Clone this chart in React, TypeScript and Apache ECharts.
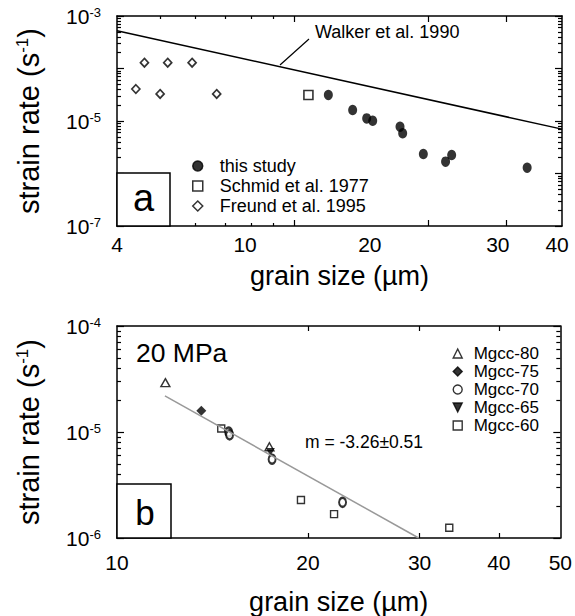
import React, { useEffect, useRef } from 'react';
import * as echarts from 'echarts';

const FONT = '"Liberation Sans", Arial, Helvetica, sans-serif';

// ---------- panel (a) ----------
const walkerLine: number[][] = [[4, 5.25e-4], [40, 7.0e-6]];
const thisStudy: number[][] = [
  [11.94, 3.13e-5], [13.54, 1.62e-5], [14.56, 1.12e-5], [15.02, 1.01e-5],
  [17.3, 7.79e-6], [17.54, 5.83e-6], [19.52, 2.35e-6], [21.9, 1.68e-6],
  [22.6, 2.25e-6], [33.4, 1.29e-6],
];
const schmid1977: number[][] = [[10.77, 3.13e-5]];
const freund1995: number[][] = [
  [4.41, 4.07e-5], [4.61, 1.29e-4], [5.0, 3.27e-5],
  [5.2, 1.29e-4], [5.9, 1.29e-4], [6.7, 3.27e-5],
];
const xTicksMajorA = [10, 20, 30];
const xTicksMinorA = [5, 6, 7, 8, 9];
const xTickLabelTextA = ['4', '10', '20', '30', '40'];
const xTickLabelAtA = [4, 7.76, 14.8, 28.7, 39.0];
const yDecadesA = [1e-7, 1e-6, 1e-5, 1e-4, 1e-3];
const yLabelsA = [1e-7, 1e-5, 1e-3];

// ---------- panel (b) ----------
const fitLine: number[][] = [[11.9, 2.19e-5], [29.9, 1.0e-6]];
const mgcc80: number[][] = [[11.92, 2.92e-5], [17.39, 7.26e-6]];
const mgcc75: number[][] = [[13.58, 1.59e-5]];
const mgcc70: number[][] = [[15.0, 1.0e-5], [15.05, 9.4e-6], [17.56, 5.53e-6], [22.68, 2.17e-6]];
const mgcc65: number[][] = [[17.45, 6.48e-6]];
const mgcc60: number[][] = [[14.6, 1.08e-5], [19.5, 2.28e-6], [21.99, 1.68e-6], [33.41, 1.25e-6]];
const xTicksB = [20, 30, 40];
const xLabelsB = [10, 20, 30, 40, 50];
const yDecadesB = [1e-6, 1e-5, 1e-4];
const yLabelsB = [1e-6, 1e-5, 1e-4];

const minorSteps = [2, 3, 4, 5, 6, 7, 8, 9];
function minorTicks(decades: number[]) {
  const out: number[] = [];
  for (let i = 0; i < decades.length - 1; i++) for (const m of minorSteps) out.push(decades[i] * m);
  return out;
}

const LINE = { show: true, onZero: false, lineStyle: { color: '#000', width: 1.5 } };
const NOLINE = { show: false, onZero: false };

function logAxis(o: any) {
  return {
    type: 'log',
    logBase: 10,
    gridIndex: o.grid,
    position: o.pos,
    min: o.min,
    max: o.max,
    silent: true,
    splitLine: { show: false },
    axisLine: o.line ? LINE : NOLINE,
    axisTick: {
      show: true,
      inside: true,
      length: o.len,
      customValues: o.ticks,
      lineStyle: { color: '#000', width: 1.2 },
    },
    axisLabel: o.label || { show: false },
    ...(o.extra || {}),
  };
}

const supLabel = (v: number) => '{b|10}{s|' + Math.round(Math.log10(v)) + '}';
const supRich = {
  b: { fontSize: 21, fontFamily: FONT, color: '#000' },
  s: { fontSize: 13, fontFamily: FONT, color: '#000', verticalAlign: 'top' },
};
const yName = '{a|strain rate (s}{s|-1}{a|)}';
const yNameStyle = {
  rich: {
    a: { fontSize: 29, fontFamily: FONT, color: '#000' },
    s: { fontSize: 17, fontFamily: FONT, color: '#000', verticalAlign: 'top' },
  },
};

function nearestText(v: number) {
  let best = 0;
  for (let i = 1; i < xTickLabelAtA.length; i++) {
    if (Math.abs(Math.log(xTickLabelAtA[i] / v)) < Math.abs(Math.log(xTickLabelAtA[best] / v))) best = i;
  }
  return xTickLabelTextA[best];
}

const openStyle = (w: number) => ({ color: '#fff', borderColor: '#000', borderWidth: w });
const filled = { color: '#000', borderColor: '#000', borderWidth: 0 };

const option: any = {
  animation: false,
  backgroundColor: '#fff',
  textStyle: { fontFamily: FONT, color: '#000' },
  grid: [
    { left: 117, top: 16, width: 445, height: 210, show: false },
    { left: 117, top: 326, width: 445, height: 212, show: false },
  ],
  xAxis: [
    logAxis({
      grid: 0, pos: 'bottom', min: 4, max: 40, line: true, len: 6, ticks: xTicksMajorA,
      label: {
        show: true, customValues: xTickLabelAtA, formatter: (v: number) => nearestText(v),
        fontSize: 21, color: '#000', fontFamily: FONT, margin: 8,
      },
      extra: {
        name: 'grain size (µm)', nameLocation: 'middle', nameGap: 36,
        nameTextStyle: { fontSize: 27, color: '#000', fontFamily: FONT },
      },
    }),
    logAxis({ grid: 0, pos: 'bottom', min: 4, max: 40, line: false, len: 3, ticks: xTicksMinorA }),
    logAxis({ grid: 0, pos: 'top', min: 4, max: 40, line: true, len: 6, ticks: xTicksMajorA }),
    logAxis({ grid: 0, pos: 'top', min: 4, max: 40, line: false, len: 3, ticks: xTicksMinorA }),
    logAxis({
      grid: 1, pos: 'bottom', min: 10, max: 50, line: true, len: 5, ticks: xTicksB,
      label: {
        show: true, customValues: xLabelsB, fontSize: 21, color: '#000', fontFamily: FONT, margin: 14,
      },
      extra: {
        name: 'grain size (µm)', nameLocation: 'middle', nameGap: 50,
        nameTextStyle: { fontSize: 27, color: '#000', fontFamily: FONT },
      },
    }),
    logAxis({ grid: 1, pos: 'top', min: 10, max: 50, line: true, len: 5, ticks: xTicksB }),
  ],
  yAxis: [
    logAxis({
      grid: 0, pos: 'left', min: 1e-7, max: 1e-3, line: true, len: 7, ticks: yDecadesA,
      label: { show: true, customValues: yLabelsA, formatter: supLabel, rich: supRich, margin: 16 },
      extra: { name: yName, nameLocation: 'middle', nameGap: 74, nameTextStyle: yNameStyle },
    }),
    logAxis({ grid: 0, pos: 'left', min: 1e-7, max: 1e-3, line: false, len: 4, ticks: minorTicks(yDecadesA) }),
    logAxis({ grid: 0, pos: 'right', min: 1e-7, max: 1e-3, line: true, len: 7, ticks: yDecadesA }),
    logAxis({ grid: 0, pos: 'right', min: 1e-7, max: 1e-3, line: false, len: 4, ticks: minorTicks(yDecadesA) }),
    logAxis({
      grid: 1, pos: 'left', min: 1e-6, max: 1e-4, line: true, len: 7, ticks: yDecadesB,
      label: { show: true, customValues: yLabelsB, formatter: supLabel, rich: supRich, margin: 16 },
      extra: { name: yName, nameLocation: 'middle', nameGap: 74, nameTextStyle: yNameStyle },
    }),
    logAxis({ grid: 1, pos: 'left', min: 1e-6, max: 1e-4, line: false, len: 4, ticks: minorTicks(yDecadesB) }),
    logAxis({ grid: 1, pos: 'right', min: 1e-6, max: 1e-4, line: true, len: 7, ticks: yDecadesB }),
    logAxis({ grid: 1, pos: 'right', min: 1e-6, max: 1e-4, line: false, len: 4, ticks: minorTicks(yDecadesB) }),
  ],
  legend: [
    {
      data: ['this study', 'Schmid et al. 1977', 'Freund et al. 1995'],
      orient: 'vertical', left: 192, top: 157, padding: 0,
      itemWidth: 10, itemHeight: 10, itemGap: 2, selectedMode: false,
      itemStyle: { borderWidth: 1.5 },
      textStyle: { fontSize: 18, color: '#000', fontFamily: FONT, padding: [0, 0, 0, 12] },
    },
    {
      data: ['Mgcc-80', 'Mgcc-75', 'Mgcc-70', 'Mgcc-65', 'Mgcc-60'],
      orient: 'vertical', left: 452.5, top: 345, padding: 0,
      itemWidth: 9, itemHeight: 9, itemGap: 1, selectedMode: false,
      itemStyle: { borderWidth: 1.4 },
      textStyle: { fontSize: 17, color: '#000', fontFamily: FONT, padding: [0, 0, 0, 6.5] },
    },
  ],
  series: [
    {
      name: 'Walker et al. 1990', type: 'line', xAxisIndex: 0, yAxisIndex: 0, data: walkerLine,
      symbol: 'none', lineStyle: { color: '#000', width: 1.5 }, silent: true,
    },
    {
      name: 'this study', type: 'scatter', xAxisIndex: 0, yAxisIndex: 0, data: thisStudy,
      symbol: 'circle', symbolSize: [9, 10.5], itemStyle: filled,
    },
    {
      name: 'Schmid et al. 1977', type: 'scatter', xAxisIndex: 0, yAxisIndex: 0, data: schmid1977,
      symbol: 'rect', symbolSize: 9, itemStyle: openStyle(1.6),
    },
    {
      name: 'Freund et al. 1995', type: 'scatter', xAxisIndex: 0, yAxisIndex: 0, data: freund1995,
      symbol: 'diamond', symbolSize: [8, 8.5], itemStyle: openStyle(1.7),
    },
    {
      name: 'fit', type: 'line', xAxisIndex: 4, yAxisIndex: 4, data: fitLine,
      symbol: 'none', lineStyle: { color: '#999', width: 1.5 }, silent: true,
    },
    {
      name: 'Mgcc-80', type: 'scatter', xAxisIndex: 4, yAxisIndex: 4, data: mgcc80,
      symbol: 'triangle', symbolSize: [9, 8], itemStyle: openStyle(1.4),
    },
    {
      name: 'Mgcc-75', type: 'scatter', xAxisIndex: 4, yAxisIndex: 4, data: mgcc75,
      symbol: 'diamond', symbolSize: 10, itemStyle: filled,
    },
    {
      name: 'Mgcc-70', type: 'scatter', xAxisIndex: 4, yAxisIndex: 4, data: mgcc70,
      symbol: 'circle', symbolSize: [7, 9], itemStyle: openStyle(2.2),
    },
    {
      name: 'Mgcc-65', type: 'scatter', xAxisIndex: 4, yAxisIndex: 4, data: mgcc65,
      symbol: 'path://M0,0L10,0L5,10Z', symbolSize: [9, 8], itemStyle: filled,
    },
    {
      name: 'Mgcc-60', type: 'scatter', xAxisIndex: 4, yAxisIndex: 4, data: mgcc60,
      symbol: 'rect', symbolSize: 7, itemStyle: openStyle(1.4),
    },
  ],
  graphic: [
    {
      type: 'rect', z: 100, shape: { x: 117, y: 173, width: 53, height: 53 },
      style: { fill: '#fff', stroke: '#000', lineWidth: 1.5 },
    },
    {
      type: 'text', z: 101, x: 143.5, y: 198,
      style: { text: 'a', fontSize: 38, fontFamily: FONT, fill: '#000', align: 'center', verticalAlign: 'middle' },
    },
    {
      type: 'rect', z: 100, shape: { x: 117, y: 484, width: 54, height: 54 },
      style: { fill: '#fff', stroke: '#000', lineWidth: 1.5 },
    },
    {
      type: 'text', z: 101, x: 145, y: 512,
      style: { text: 'b', fontSize: 35, fontFamily: FONT, fill: '#000', align: 'center', verticalAlign: 'middle' },
    },
    {
      type: 'text', z: 101, x: 315, y: 32,
      style: { text: 'Walker et al. 1990', fontSize: 18, fontFamily: FONT, fill: '#000', align: 'left', verticalAlign: 'middle' },
    },
    {
      type: 'line', z: 101, shape: { x1: 280, y1: 65, x2: 309, y2: 39 },
      style: { stroke: '#000', lineWidth: 1.2 },
    },
    {
      type: 'text', z: 101, x: 136, y: 353,
      style: { text: '20 MPa', fontSize: 26.5, fontFamily: FONT, fill: '#000', align: 'left', verticalAlign: 'middle' },
    },
    {
      type: 'text', z: 101, x: 305, y: 442,
      style: { text: 'm = -3.26±0.51', fontSize: 17.5, fontFamily: FONT, fill: '#000', align: 'left', verticalAlign: 'middle' },
    },
  ],
};

export default function App() {
  const ref = useRef<HTMLDivElement>(null);
  useEffect(() => {
    document.body.style.margin = '0';
    const chart = echarts.init(ref.current as HTMLDivElement, undefined, { renderer: 'svg' });
    chart.setOption(option);
    return () => chart.dispose();
  }, []);
  return <div ref={ref} style={{ width: 575, height: 616, background: '#fff' }} />;
}
